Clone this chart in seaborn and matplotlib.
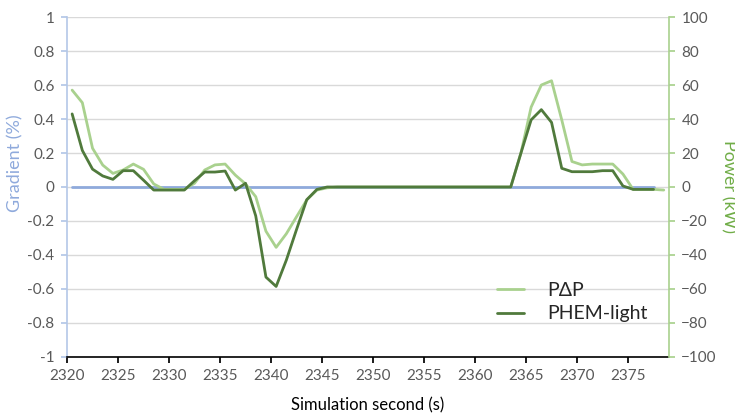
import numpy as np
import pandas as pd
import seaborn as sns
from matplotlib import pyplot as plt

# sample times (s)
time_s = [2320.5 + k for k in range(58)]
time_pdp = [2320.5 + k for k in range(59)]

gradient = [0.0] * 58

phem_light = [43, 21.5, 10.5, 6.5, 4.5, 9.6, 9.6, 4, -1.8, -1.8,
              -1.8, -1.8, 3.7, 8.8, 8.8, 9.4, -1.8, 2.2, -17, -53,
              -58.5, -43, -25, -7.5, -1.4, 0, 0, 0, 0, 0,
              0, 0, 0, 0, 0, 0, 0, 0, 0, 0,
              0, 0, 0, 0, 20, 39.5, 45.5, 38, 11, 9,
              9, 9, 9.6, 9.6, 0.6, -1.4, -1.4, -1.4]

pdp = [57, 49.6, 22.8, 12.9, 8, 10, 13.5, 10.4, 1.8, -1.4,
       -1.4, -1.4, 2.2, 10, 13, 13.5, 7, 1.8, -5.7, -26,
       -35.5, -27.5, -17.5, -7.6, -1.8, -0.5, 0, 0, 0, 0,
       0, 0, 0, 0, 0, 0, 0, 0, 0, 0,
       0, 0, 0, 0, 20, 47, 60, 62.5, 39.5, 15,
       13, 13.5, 13.5, 13.5, 7.6, -1.4, -1.4, -1.4, -1.8]

x_ticks = list(range(2320, 2376, 5))

blue = "#8FAADC"
light_green = "#A9D18E"
dark_green = "#507A3C"
label_grey = "#595959"

sns.set_theme(style="white")
plt.rcParams['font.family'] = ['Lato', 'DejaVu Sans']

grad_df = pd.DataFrame({'t': time_s, 'grad': gradient})
phem_df = pd.DataFrame({'t': time_s, 'power': phem_light})
pdp_df = pd.DataFrame({'t': time_pdp, 'power': pdp})

fig = plt.figure(figsize=(7.35, 4.19), dpi=100)
ax = fig.add_axes([0.0912, 0.148, 0.8188, 0.8114])
ax2 = ax.twinx()

ax.set_yticks(np.round(np.arange(-1, 1.01, 0.2), 1))
ax.yaxis.grid(True, color="#D9D9D9", lw=1)
ax.set_axisbelow(True)

sns.lineplot(data=grad_df, x='t', y='grad', ax=ax, color=blue, lw=2)
sns.lineplot(data=pdp_df, x='t', y='power', ax=ax2, color=light_green, lw=2, label='P\u0394P')
sns.lineplot(data=phem_df, x='t', y='power', ax=ax2, color=dark_green, lw=2, label='PHEM-light')

ax.set_xlim(2320, 2379)
ax.set_ylim(-1, 1)
ax2.set_ylim(-100, 100)
ax2.set_yticks(range(-100, 101, 20))
ax.set_xticks(x_ticks)
ax.set_yticklabels(['-1', '-0.8', '-0.6', '-0.4', '-0.2', '0', '0.2', '0.4', '0.6', '0.8', '1'])

for a in (ax, ax2):
    a.spines['top'].set_visible(False)
ax.spines['left'].set_color("#B4C7E7")
ax.spines['left'].set_linewidth(1.2)
ax.spines['right'].set_visible(False)
ax2.spines['left'].set_visible(False)
ax2.spines['bottom'].set_visible(False)
ax2.spines['right'].set_color(light_green)
ax2.spines['right'].set_linewidth(1.2)
ax.spines['bottom'].set_color("black")
ax.spines['bottom'].set_linewidth(1.2)

ax.tick_params(axis='x', direction='out', length=4, color='black', labelsize=11,
               labelcolor=label_grey, bottom=True, pad=5)
ax.tick_params(axis='y', direction='out', length=4, color="#B4C7E7", labelsize=11,
               labelcolor=label_grey, left=True, pad=5)
ax2.tick_params(axis='y', direction='out', length=4, color=light_green, labelsize=11,
                labelcolor=label_grey, right=True, pad=5)

ax.set_xlabel('Simulation second (s)', fontsize=12, color='black', labelpad=10)
ax.set_ylabel('Gradient (%)', fontsize=13, color=blue)
ax.yaxis.set_label_coords(-0.072, 0.57)
ax2.set_ylabel('Power (kW)', fontsize=13, color="#70AD47", rotation=270, labelpad=14)

ax2.legend(loc='center left', bbox_to_anchor=(0.685, 0.162), frameon=False, fontsize=14,
           handlelength=1.4, labelspacing=0.35, handletextpad=1.2)

fig.savefig('out.png', dpi=100)
